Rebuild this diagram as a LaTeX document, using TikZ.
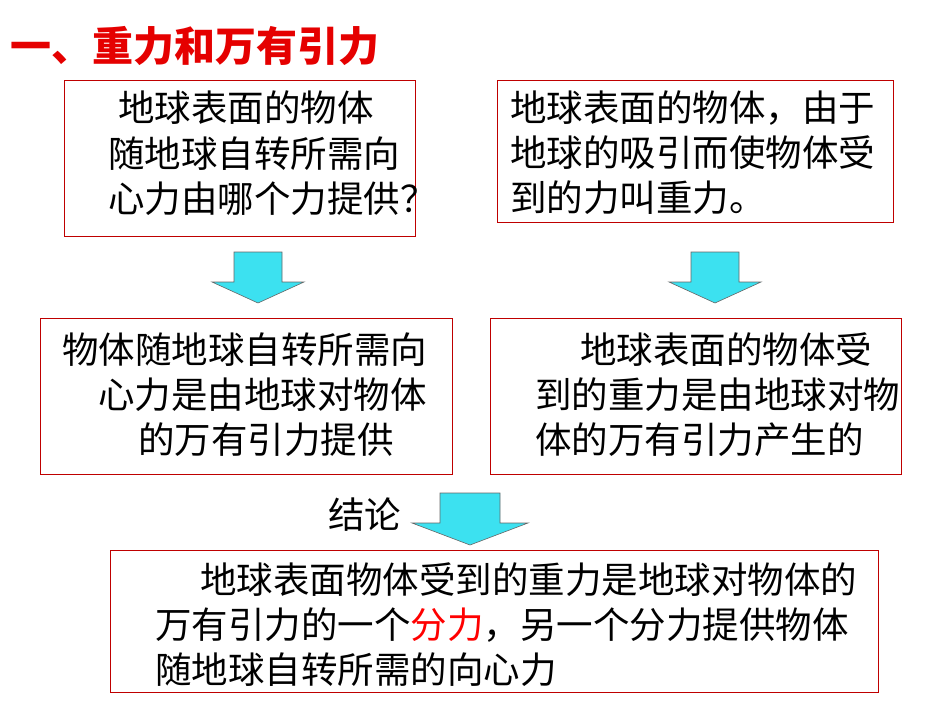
\documentclass[tikz,border=0pt]{standalone}
\usepackage{fontspec}
\newfontfamily\cjk{Noto Sans CJK SC}
\begin{document}
\begin{tikzpicture}[x=1pt,y=-1pt,
  box/.style={draw=red!75!black,line width=0.8pt},
  txt/.style={anchor=west,inner sep=0pt,font=\cjk\fontsize{36.5}{36.5}\selectfont},
  arr/.style={fill={rgb,255:red,60;green,225;blue,240},draw=black!60,line width=0.6pt}]
\useasboundingbox (0,0) rectangle (950,713);
\node[anchor=west,inner sep=0pt,text=red!90!black,font=\cjk\bfseries\fontsize{41}{41}\selectfont] (title) at (10,46) {一、重力和万有引力};
% box1
\draw[box] (64,80) rectangle (415,236);
\node[txt] (a1) at (118,108) {地球表面的物体};
\node[txt] (a2) at (108,154) {随地球自转所需向};
\node[txt] (a3) at (108,199) {心力由哪个力提供？};
% box2
\draw[box] (497,80) rectangle (893,222);
\node[txt] (b1) at (510,108) {地球表面的物体，由于};
\node[txt] (b2) at (510,153) {地球的吸引而使物体受};
\node[txt] (b3) at (510,198) {到的力叫重力。};
% arrows
\foreach \cx/\ya/\yb/\yc/\bw/\hw in {258/252/282/303/24/46, 715/252/282/303/24/46, 470/493/523/545/30/58}{
  \draw[arr] (\cx-\bw,\ya) -- (\cx+\bw,\ya) -- (\cx+\bw,\yb) -- (\cx+\hw,\yb) -- (\cx,\yc) -- (\cx-\hw,\yb) -- (\cx-\bw,\yb) -- cycle;
}
% box3
\draw[box] (40,318) rectangle (452,474);
\node[txt] (c1) at (62,350) {物体随地球自转所需向};
\node[txt] (c2) at (98,395) {心力是由地球对物体};
\node[txt] (c3) at (138,440) {的万有引力提供};
% box4
\draw[box] (490,318) rectangle (901,474);
\node[txt] (d1) at (580,350) {地球表面的物体受};
\node[txt] (d2) at (535,395) {到的重力是由地球对物};
\node[txt] (d3) at (535,440) {体的万有引力产生的};
\node[txt] (concl) at (328,515) {结论};
% box5
\draw[box] (110,550) rectangle (878,692);
\node[txt] (e1) at (200,580) {地球表面物体受到的重力是地球对物体的};
\node[txt] (e2) at (155,625) {万有引力的一个\textcolor{red}{分力}，另一个分力提供物体};
\node[txt] (e3) at (155,670) {随地球自转所需的向心力};
\end{tikzpicture}
\end{document}
